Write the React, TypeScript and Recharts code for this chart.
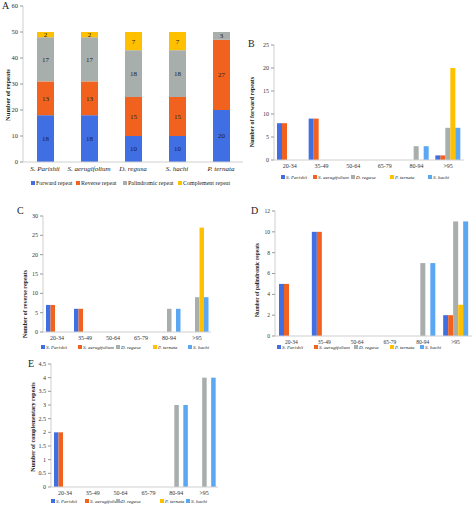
import React from 'react';
import { BarChart, Bar, XAxis, YAxis, Legend, LabelList } from 'recharts';

const FONT = "'Times New Roman', 'Liberation Serif', serif";
const COLORS = ['#3F6FE3', '#F2621F', '#A7AEAC', '#FFC000', '#5BA7F2'];
const AXIS = '#cfcfcf';

// panel A
const speciesA = ['S. Parishii', 'S. aerugifolium', 'D. regusa', 'S. hachi', 'P. ternata'];
const forwardA = [18, 18, 10, 10, 20];
const reverseA = [13, 13, 15, 15, 27];
const palindromicA = [17, 17, 18, 18, 3];
const complementA = [2, 2, 7, 7, 0];
const ticksA = [0, 10, 20, 30, 40, 50, 60];
const repeatTypes = ['Forward repeat', 'Reverse repeat', 'Palindromic repeat', 'Complement repeat'];

// panels B-E
const species = ['S. Parishii', 'S. aerugifolium', 'D. regusa', 'P. ternata', 'S. hachi'];
const ranges = ['20-34', '35-49', '50-64', '65-79', '80-94', '>95'];

// rows follow the species order above
const forwardCounts = [
    [8, 9, 0, 0, 0, 1],
    [8, 9, 0, 0, 0, 1],
    [0, 0, 0, 0, 3, 7],
    [0, 0, 0, 0, 0, 20],
    [0, 0, 0, 0, 3, 7],
];
const reverseCounts = [
    [7, 6, 0, 0, 0, 0],
    [7, 6, 0, 0, 0, 0],
    [0, 0, 0, 0, 6, 9],
    [0, 0, 0, 0, 0, 27],
    [0, 0, 0, 0, 6, 9],
];
const palindromicCounts = [
    [5, 10, 0, 0, 0, 2],
    [5, 10, 0, 0, 0, 2],
    [0, 0, 0, 0, 7, 11],
    [0, 0, 0, 0, 0, 3],
    [0, 0, 0, 0, 7, 11],
];
const complementCounts = [
    [2, 0, 0, 0, 0, 0],
    [2, 0, 0, 0, 0, 0],
    [0, 0, 0, 0, 3, 4],
    [0, 0, 0, 0, 0, 0],
    [0, 0, 0, 0, 3, 4],
];
const ticksB = [0, 5, 10, 15, 20, 25];
const ticksC = [0, 5, 10, 15, 20, 25, 30];
const ticksD = [0, 2, 4, 6, 8, 10, 12];
const ticksE = [0, 0.5, 1, 1.5, 2, 2.5, 3, 3.5, 4, 4.5];

const dataA = speciesA.map((s, i) => ({
    name: s, fwd: forwardA[i], rev: reverseA[i], pal: palindromicA[i], comp: complementA[i],
}));

function legendContent(names: string[], xs: number[], w: number, h: number, size: number, italic: boolean) {
    return () => (
        <div style={{ position: 'relative', width: w, height: h }}>
            {names.map((n, i) => (
                <div key={n} style={{
                    position: 'absolute', left: xs[i] - 2, top: 0, height: h, display: 'flex',
                    alignItems: 'center', gap: 1.5, whiteSpace: 'nowrap', fontSize: size,
                    fontStyle: italic ? 'italic' : 'normal', color: '#222', fontFamily: FONT,
                }}>
                    <span style={{ width: 3.5, height: 3.5, background: COLORS[i], display: 'inline-block' }} />
                    {n}
                </div>
            ))}
        </div>
    );
}

function Title({ text, x, y, size = 6.5 }: { text: string; x: number; y: number; size?: number }) {
    return (
        <div style={{
            position: 'absolute', left: x, top: y, transform: 'translate(-50%, -50%) rotate(-90deg)',
            whiteSpace: 'nowrap', fontSize: size, fontWeight: 'bold', color: '#222', fontFamily: FONT,
        }}>{text}</div>
    );
}

function Letter({ text, x, y }: { text: string; x: number; y: number }) {
    return <div style={{ position: 'absolute', left: x - 4, top: y - 6, fontSize: 10, fontFamily: FONT, color: '#222' }}>{text}</div>;
}

interface RangeProps {
    left: number; top: number; width: number; height: number;
    marginTop: number; marginRight: number; yWidth: number; xHeight: number; legendH: number;
    counts: number[][]; ticks: number[]; legendX: number[]; barSize: number; tickFont: number; legendFont: number;
}

function RangeChart(p: RangeProps) {
    const data = ranges.map((r, i) => {
        const row: Record<string, string | number> = { range: r };
        species.forEach((_, k) => { row['s' + k] = p.counts[k][i]; });
        return row;
    });
    return (
        <div style={{ position: 'absolute', left: p.left, top: p.top }}>
            <BarChart width={p.width} height={p.height} data={data} barGap={0} style={{ fontFamily: FONT }}
                margin={{ top: p.marginTop, right: p.marginRight, left: 0, bottom: 0 }}>
                <XAxis dataKey="range" interval={0} height={p.xHeight} tickSize={3} tickMargin={1}
                    tickLine={false} axisLine={{ stroke: AXIS }}
                    tick={{ fontSize: p.tickFont, fill: '#333', fontFamily: FONT }} />
                <YAxis width={p.yWidth} domain={[p.ticks[0], p.ticks[p.ticks.length - 1]]} ticks={p.ticks}
                    tickSize={3} tickMargin={2} axisLine={{ stroke: AXIS }} tickLine={{ stroke: '#999' }}
                    tick={{ fontSize: p.tickFont, fill: '#333', fontFamily: FONT }} />
                <Legend verticalAlign="bottom" content={legendContent(species, p.legendX.map((x) => x - p.left), p.width, p.legendH, p.legendFont, true)} />
                {species.map((s, k) => (
                    <Bar key={s} dataKey={'s' + k} name={s} fill={COLORS[k]} barSize={p.barSize} isAnimationActive={false} />
                ))}
            </BarChart>
        </div>
    );
}

export default function App() {
    return (
        <div style={{ position: 'absolute', left: 0, top: 0, width: 474, height: 507, background: '#fff', fontFamily: FONT }}>
            {/* A */}
            <div style={{ position: 'absolute', left: 0, top: 0 }}>
                <BarChart width={245} height={190} data={dataA} style={{ fontFamily: FONT }}
                    margin={{ top: 6, right: 2, left: 0, bottom: 0 }}>
                    <XAxis dataKey="name" interval={0} height={14} tickSize={3} tickMargin={1} tickLine={false}
                        axisLine={{ stroke: AXIS }} tick={{ fontSize: 7, fontStyle: 'italic', fill: '#222', fontFamily: FONT }} />
                    <YAxis width={23} domain={[0, 60]} ticks={ticksA} tickSize={3} tickMargin={2}
                        axisLine={{ stroke: AXIS }} tickLine={{ stroke: '#999' }}
                        tick={{ fontSize: 6.5, fill: '#333', fontFamily: FONT }} />
                    <Legend verticalAlign="bottom" content={legendContent(repeatTypes, [33, 78, 125, 180], 245, 14, 6, false)} />
                    <Bar dataKey="fwd" stackId="a" fill={COLORS[0]} barSize={17} isAnimationActive={false}>
                        <LabelList dataKey="fwd" position="center" fill="#222" fontSize={7} fontFamily={FONT} />
                    </Bar>
                    <Bar dataKey="rev" stackId="a" fill={COLORS[1]} barSize={17} isAnimationActive={false}>
                        <LabelList dataKey="rev" position="center" fill="#222" fontSize={7} fontFamily={FONT} />
                    </Bar>
                    <Bar dataKey="pal" stackId="a" fill={COLORS[2]} barSize={17} isAnimationActive={false}>
                        <LabelList dataKey="pal" position="center" fill="#222" fontSize={7} fontFamily={FONT} />
                    </Bar>
                    <Bar dataKey="comp" stackId="a" fill={COLORS[3]} barSize={17} isAnimationActive={false}>
                        <LabelList dataKey="comp" position="center" fill="#222" fontSize={7} fontFamily={FONT} />
                    </Bar>
                </BarChart>
            </div>
            <Letter text="A" x={6} y={6} />
            <Title text="Number of repeats" x={7} y={95} />

            {/* B */}
            <RangeChart left={240} top={40} width={234} height={143} marginTop={5} marginRight={10}
                yWidth={34} xHeight={11} legendH={12} counts={forwardCounts} ticks={ticksB}
                legendX={[283, 315, 353, 392, 430]} barSize={5} tickFont={6} legendFont={5} />
            <Letter text="B" x={252} y={44} />
            <Title text="Number of forward repeats" x={252} y={112} size={6} />

            {/* C */}
            <RangeChart left={0} top={210} width={216} height={142} marginTop={6} marginRight={5}
                yWidth={43} xHeight={10} legendH={10} counts={reverseCounts} ticks={ticksC}
                legendX={[43, 80, 118, 155, 190]} barSize={4.5} tickFont={6} legendFont={5} />
            <Letter text="C" x={21} y={211} />
            <Title text="Number of reverse repeats" x={25} y={304} size={6} />

            {/* D */}
            <RangeChart left={240} top={205} width={234} height={145} marginTop={6} marginRight={2}
                yWidth={35} xHeight={8} legendH={6} counts={palindromicCounts} ticks={ticksD}
                legendX={[279, 316, 356, 392, 422]} barSize={5} tickFont={5.5} legendFont={5} />
            <Letter text="D" x={255} y={211} />
            <Title text="Number of palindromic repeats" x={257} y={280} size={5.5} />

            {/* E */}
            <RangeChart left={0} top={358} width={222} height={148} marginTop={6} marginRight={4}
                yWidth={51} xHeight={9} legendH={10} counts={complementCounts} ticks={ticksE}
                legendX={[53, 87, 118, 162, 188]} barSize={4.5} tickFont={6} legendFont={5} />
            <Letter text="E" x={32} y={364} />
            <Title text="Number of complementary repeats" x={33} y={427} size={6} />
        </div>
    );
}
